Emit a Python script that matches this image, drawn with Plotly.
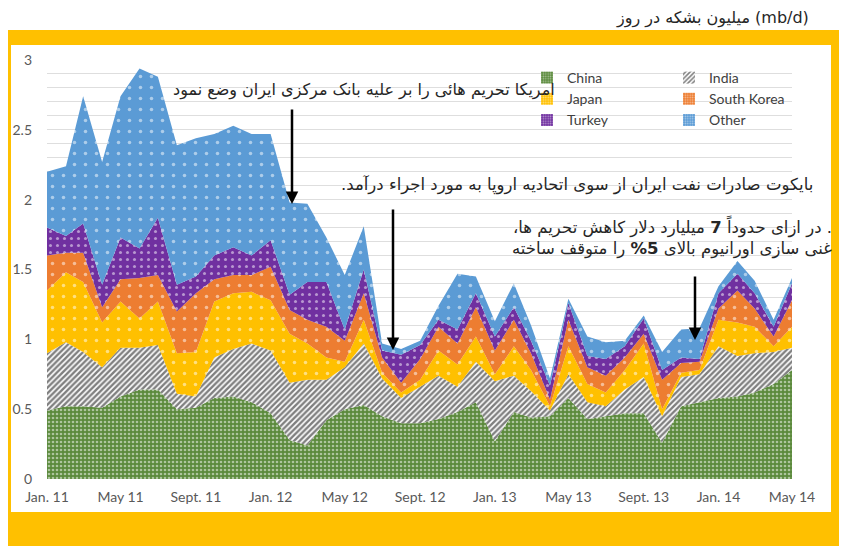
import pandas as pd
import plotly.graph_objects as go

# monthly exports of Iranian crude by buyer, million barrels per day
months = pd.date_range("2011-01-01", "2014-05-01", freq="MS")

china = [.49, .52, .52, .51, .59, .64, .64, .50, .51, .58, .59, .55, .47, .28, .24, .42, .50, .53, .45, .40, .40,
         .43, .48, .55, .27, .48, .44, .45, .58, .43, .45, .47, .47, .26, .52, .55, .58, .59, .62, .68, .78]
india = [.41, .46, .39, .29, .35, .30, .32, .11, .08, .29, .34, .42, .45, .41, .47, .29, .30, .44, .27, .18, .26,
         .31, .18, .29, .43, .26, .19, .04, .17, .12, .07, .17, .26, .19, .21, .20, .37, .29, .28, .23, .16]
japan = [.45, .50, .50, .32, .33, .21, .31, .29, .32, .40, .40, .37, .36, .35, .26, .16, .04, .17, .04, .04, .05,
         .18, .16, .18, .05, .21, .15, .03, .20, .13, .10, .14, .24, .05, .03, .03, .19, .24, .19, .04, .15]
korea = [.25, .14, .21, .11, .16, .29, .19, .30, .42, .16, .13, .12, .24, .17, .17, .22, .15, .19, .11, .07, .15,
         .17, .15, .21, .17, .19, .12, .05, .19, .12, .12, .09, .07, .21, .07, .06, .08, .23, .13, .07, .19]
turkey = [.20, .12, .21, .16, .30, .21, .41, .19, .12, .17, .20, .14, .19, .11, .27, .32, .08, .17, .05, .20, .10,
          .05, .10, .10, .10, .09, .09, .10, .12, .08, .12, .08, .11, .07, .04, .02, .11, .12, .11, .07, .12]
other = [.40, .50, .91, .88, 1.01, 1.29, 1.01, 1.00, .99, .87, .87, .87, .76, .66, .56, .32, .39, .31, .05, .04, .03,
         .10, .40, .12, .11, .17, .11, .05, .03, .14, .12, .04, .02, .13, .20, .22, .05, .09, .09, .05, .04]

tick_dates = ["2011-01-01", "2011-05-01", "2011-09-01", "2012-01-01", "2012-05-01", "2012-09-01",
              "2013-01-01", "2013-05-01", "2013-09-01", "2014-01-01", "2014-05-01"]
tick_text = ["Jan. 11", "May 11", "Sept. 11", "Jan. 12", "May 12", "Sept. 12",
             "Jan. 13", "May 13", "Sept. 13", "Jan. 14", "May 14"]

GOLD = "#FFC000"
RLM = "\u200f"

# pixel -> paper helpers (plot area on screen is x 47..792, y 60..479)
def px(x):
    return (x - 47) / 745

def py(y):
    return (479 - y) / 419

series = [
    ("China", china, "#5B8A3C", ".", "white", 4, 0.35, "legend"),
    ("India", india, "white", "/", "black", 4, 0.6, "legend2"),
    ("Japan", japan, GOLD, ".", "white", 11, 0.08, "legend"),
    ("South Korea", korea, "#ED7D31", ".", "white", 11, 0.08, "legend2"),
    ("Turkey", turkey, "#7030A0", ".", "white", 7, 0.15, "legend"),
    ("Other", other, "#5B9BD5", ".", "white", 11, 0.08, "legend2"),
]

fig = go.Figure()
for name, vals, col, shape, fg, size, sol, leg in series:
    fig.add_trace(go.Scatter(
        x=months, y=vals, name=name, mode="none", stackgroup="one",
        fillcolor=col,
        fillpattern=dict(shape=shape, fgcolor=fg, bgcolor=col, size=size, solidity=sol),
        showlegend=False, hoverinfo="skip"))
    # empty bar only for the small square legend key
    fig.add_trace(go.Bar(
        x=[None], y=[None], name=name, legend=leg,
        marker=dict(color=col, line_width=0,
                    pattern=dict(shape=shape, fgcolor=fg, bgcolor=col, size=3 if shape == "." else 4,
                                 solidity=0.35 if shape == "." else 0.5))))

fig.update_layout(
    width=847, height=546,
    # page body adds 8px offset, so margins are shifted by that much
    margin=dict(l=39, r=63, t=52, b=75),
    paper_bgcolor="white",
    plot_bgcolor="rgba(0,0,0,0)",
    font=dict(family="Lato, Open Sans, sans-serif", size=14, color="#595959"),
    showlegend=True,
    legend=dict(x=px(527), y=py(62), xanchor="left", yanchor="top", bgcolor="rgba(0,0,0,0)",
                traceorder="normal", itemwidth=30, tracegroupgap=0, font=dict(size=14, color="#404040")),
    legend2=dict(x=px(669), y=py(62), xanchor="left", yanchor="top", bgcolor="rgba(0,0,0,0)",
                 traceorder="normal", itemwidth=30, tracegroupgap=0, font=dict(size=14, color="#404040")),
    xaxis=dict(range=["2011-01-01", "2014-05-01"], tickvals=tick_dates, ticktext=tick_text,
               showgrid=False, zeroline=False, showline=False, ticks="", ticklabelstandoff=8,
               automargin=False),
    yaxis=dict(range=[0, 3], dtick=0.5, showgrid=True, gridcolor="#DEDEDE",
               minor=dict(dtick=0.1, showgrid=True, gridcolor="#DEDEDE"),
               zeroline=False, ticks="", ticklabelstandoff=14, automargin=False),
)

# gold frame around the white panel
fig.add_shape(type="rect", xref="paper", yref="paper", x0=px(0), x1=px(860), y0=py(30), y1=py(560),
              fillcolor=GOLD, line_width=0, layer="below")
fig.add_shape(type="rect", xref="paper", yref="paper", x0=px(11), x1=px(831), y0=py(45), y1=py(512),
              fillcolor="white", line_width=0, layer="below")

# unit title
fig.add_annotation(xref="paper", yref="paper", x=px(811), y=py(18), xanchor="right", yanchor="middle",
                   text="میلیون بشکه در روز (mb/d)", showarrow=False,
                   font=dict(family="DejaVu Sans", size=16, color="#262626"))

notes = [
    (557, 90, 16, "امریکا تحریم هائی را بر علیه بانک مرکزی ایران وضع نمود"),
    (815, 185, 16.5, "بایکوت صادرات نفت ایران از سوی اتحادیه اروپا به مورد اجراء درآمد."),
    (834, 226, 16.5, ". در ازای حدوداً <b>7</b> میلیارد دلار کاهش تحریم ها،"),
    (834, 249, 16.5, "غنی سازی اورانیوم بالای <b>5%</b> را متوقف ساخته"),
]
for x, y, fs, t in notes:
    fig.add_annotation(xref="paper", yref="paper", x=px(x), y=py(y), xanchor="right", yanchor="middle",
                       text=RLM + t + RLM, showarrow=False,
                       font=dict(family="DejaVu Sans", size=fs, color="#262626"))

# arrows
for x, y0, y1 in [(292, 108, 204), (393, 208, 350), (695, 275, 340)]:
    fig.add_annotation(xref="paper", yref="paper", axref="pixel", ayref="pixel",
                       x=px(x), y=py(y1), ax=0, ay=-(y1 - y0), text="", showarrow=True,
                       arrowhead=2, arrowsize=1, arrowwidth=2.5, arrowcolor="black")

fig.write_html("out.html")
